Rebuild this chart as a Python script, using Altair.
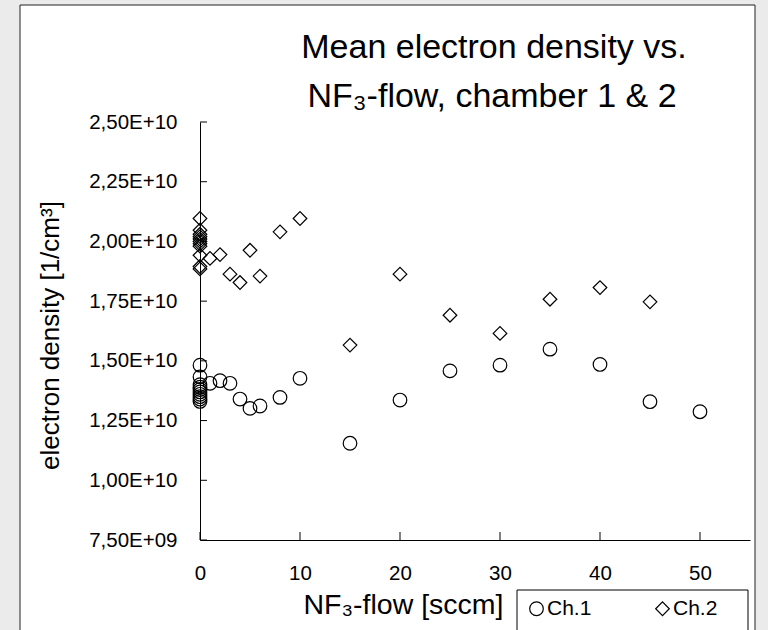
import altair as alt
import pandas as pd

FONT = "Liberation Sans"

# ---- data ----
CH1_X = [0, 0, 0, 0, 0, 0, 0, 0, 0, 0,
         1, 2, 3, 4, 5, 6, 8, 10, 15, 20, 25, 30, 35, 40, 45, 50]
CH1_Y = [1.482e10, 1.433e10, 1.400e10, 1.390e10, 1.380e10, 1.370e10, 1.360e10, 1.350e10, 1.340e10, 1.330e10,
         1.406e10, 1.417e10, 1.406e10, 1.340e10, 1.301e10, 1.311e10, 1.347e10, 1.427e10,
         1.155e10, 1.336e10, 1.458e10, 1.482e10, 1.549e10, 1.485e10, 1.329e10, 1.287e10]

CH2_X = [0, 0, 0, 0, 0, 0, 0, 0, 0, 0, 0,
         1, 2, 3, 4, 5, 6, 8, 10, 15, 20, 25, 30, 35, 40, 45]
CH2_Y = [2.096e10, 2.047e10, 2.030e10, 2.020e10, 2.010e10, 2.000e10, 1.990e10, 1.980e10, 1.942e10, 1.895e10, 1.885e10,
         1.929e10, 1.945e10, 1.863e10, 1.828e10, 1.963e10, 1.855e10, 2.040e10, 2.096e10,
         1.566e10, 1.863e10, 1.691e10, 1.615e10, 1.758e10, 1.807e10, 1.747e10]

SERIES = ["Ch.1", "Ch.2"]
SHAPES = ["circle", "diamond"]

X_TICKS = [0, 10, 20, 30, 40, 50]
Y_TICKS = [7.5e9, 1.0e10, 1.25e10, 1.5e10, 1.75e10, 2.0e10, 2.25e10, 2.5e10]
Y_TICK_LABELS = ["7,50E+09", "1,00E+10", "1,25E+10", "1,50E+10",
                 "1,75E+10", "2,00E+10", "2,25E+10", "2,50E+10"]

TITLE = ["Mean electron density vs.", "NF\u2083-flow, chamber 1 & 2"]
X_TITLE = "NF\u2083-flow [sccm]"
Y_TITLE = "electron density [1/cm\u00b3]"

# ---- build table ----
df = pd.DataFrame({
    "x": CH1_X + CH2_X,
    "y": CH1_Y + CH2_Y,
    "series": [SERIES[0]] * len(CH1_X) + [SERIES[1]] * len(CH2_X),
})

W, H = 550, 418

xscale = alt.Scale(domain=[0, 55], nice=False, zero=False)
yscale = alt.Scale(domain=[7.5e9, 2.5e10], nice=False, zero=False)

label_arr = "[" + ",".join("'%s'" % s for s in Y_TICK_LABELS) + "]"
y_expr = "%s[round((datum.value - %r) / %r)]" % (label_arr, Y_TICKS[0], Y_TICKS[1] - Y_TICKS[0])

xaxis = alt.Axis(
    values=X_TICKS, grid=False, ticks=False, tickSize=0, domain=True,
    domainColor="black", domainWidth=1, labelFont=FONT, labelFontSize=20.5,
    labelColor="black", labelBaseline="middle", labelPadding=33,
    labelFlush=False, labelOverlap=False,
    title=X_TITLE, titleFont=FONT, titleFontSize=28.5, titleFontWeight="normal",
    titleColor="black", titleX=203, titleY=64, titleAlign="center",
    titleBaseline="middle", zindex=1,
)
yaxis = alt.Axis(
    values=Y_TICKS, grid=False, ticks=False, tickSize=0, domain=True,
    domainColor="black", domainWidth=1, labelFont=FONT, labelFontSize=20.5,
    labelColor="black", labelPadding=23, labelExpr=y_expr,
    labelFlush=False, labelOverlap=False,
    title=Y_TITLE, titleFont=FONT, titleFontSize=26, titleFontWeight="normal",
    titleColor="black", titleX=-150, titleY=H / 2 + 4, titleAngle=270,
    titleAlign="center", titleBaseline="middle", zindex=1,
)

# white chart-area frame (decoration)
frame = alt.Chart(pd.DataFrame({"k": [0]})).mark_rect(
    fill="white", stroke="#222222", strokeWidth=1
).encode(
    x=alt.value(-180), x2=alt.value(555), y=alt.value(-117), y2=alt.value(H + 120)
)

# legend frame (decoration)
legend_box = alt.Chart(pd.DataFrame({"k": [0]})).mark_rect(
    fill="white", stroke="black", strokeWidth=1
).encode(
    x=alt.value(317), x2=alt.value(548), y=alt.value(H + 50), y2=alt.value(H + 100)
)

# title lines as text
title1 = alt.Chart(pd.DataFrame({"t": [TITLE[0]]})).mark_text(
    font=FONT, fontSize=34, color="black", align="center", baseline="alphabetic"
).encode(text="t:N", x=alt.value(294), y=alt.value(-64))
title2 = alt.Chart(pd.DataFrame({"t": [TITLE[1]]})).mark_text(
    font=FONT, fontSize=34, color="black", align="center", baseline="alphabetic"
).encode(text="t:N", x=alt.value(292), y=alt.value(-15))

points = alt.Chart(df).mark_point(
    filled=False, color="black", strokeWidth=1.2, size=185, opacity=1
).encode(
    x=alt.X("x:Q", scale=xscale, axis=xaxis),
    y=alt.Y("y:Q", scale=yscale, axis=yaxis),
    shape=alt.Shape(
        "series:N",
        scale=alt.Scale(domain=SERIES, range=SHAPES),
        legend=alt.Legend(
            orient="none", legendX=326, legendY=476, direction="horizontal",
            title=None, labelFont=FONT, labelFontSize=21, labelColor="black",
            labelOffset=0, symbolSize=185, symbolStrokeColor="black",
            symbolFillColor="transparent", symbolStrokeWidth=1.2,
            columnPadding=60, padding=0,
        ),
    ),
)

xt = alt.Chart(pd.DataFrame({"x": X_TICKS})).mark_rule(color="black", strokeWidth=1).encode(
    x=alt.X("x:Q", scale=xscale, axis=xaxis),
    y=alt.value(H), y2=alt.value(H - 8),
)
yt = alt.Chart(pd.DataFrame({"y": Y_TICKS})).mark_rule(color="black", strokeWidth=1).encode(
    y=alt.Y("y:Q", scale=yscale, axis=yaxis),
    x=alt.value(0), x2=alt.value(7),
)

chart = alt.layer(frame, legend_box, title1, title2, xt, yt, points).properties(
    width=W, height=H,
    autosize=alt.AutoSizeParams(type="none"),
    padding={"left": 200, "top": 122, "right": 18, "bottom": 90},
).configure(
    background="#ebebeb",
).configure_view(stroke=None)

chart.save("out.html", embed_options={"renderer": "svg", "actions": False})
